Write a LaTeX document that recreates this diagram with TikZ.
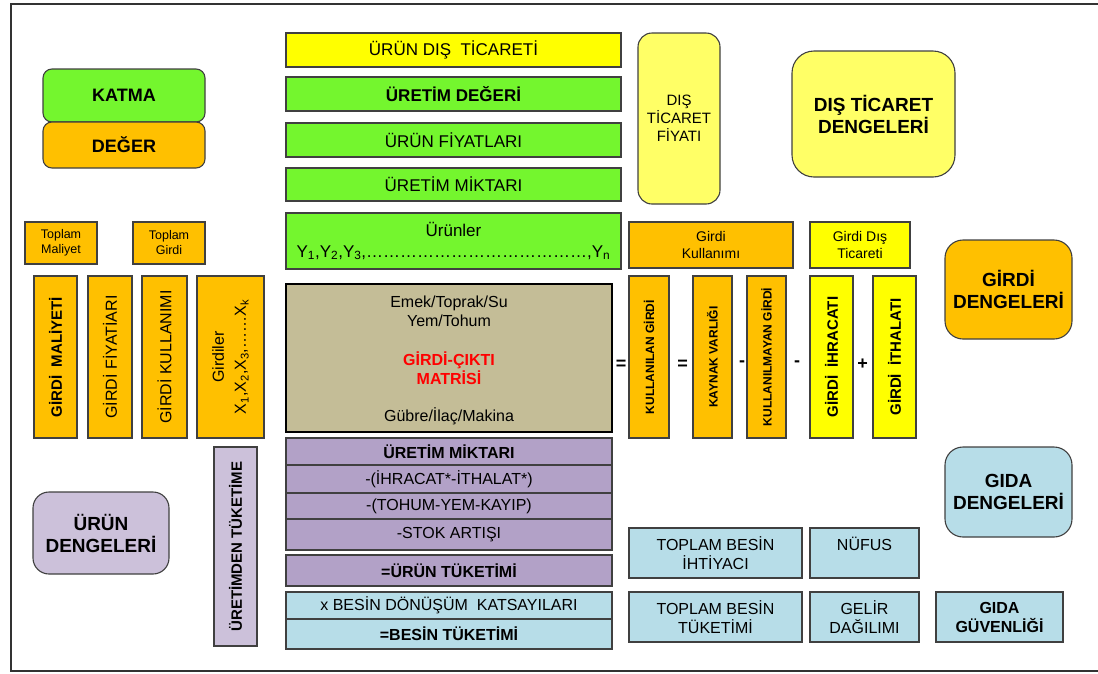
\documentclass[tikz,border=0pt]{standalone}
\usepackage{fontspec}
\setmainfont{Liberation Sans}
\usetikzlibrary{positioning}
\definecolor{kgreen}{RGB}{116,246,46}
\definecolor{korange}{RGB}{255,192,0}
\definecolor{kyellow}{RGB}{255,255,0}
\definecolor{kpale}{RGB}{255,255,102}
\definecolor{ktan}{RGB}{196,189,151}
\definecolor{kpurple}{RGB}{178,161,199}
\definecolor{klilac}{RGB}{204,193,218}
\definecolor{kblue}{RGB}{183,221,232}
\definecolor{kred}{RGB}{255,0,0}
\tikzset{
  blk/.style = {draw=black!75, line width=1.1pt, inner sep=0, outer sep=0, align=center, font=\fontsize{16}{19}\selectfont},
  rblk/.style = {blk, rounded corners=#1},
  big/.style = {font=\fontsize{19}{22}\selectfont\bfseries},
  opr/.style = {inner sep=0, font=\fontsize{18}{18}\selectfont\bfseries}
}

\begin{document}
\begin{tikzpicture}[x=1pt, y=-1pt]
  \useasboundingbox (0,0) rectangle (1098,673);
  \draw [line width=2pt, black!80] (10.5,3.5) rectangle (1130,671);

  % katma deger
  \node [rblk=9pt, fill=kgreen, minimum width=162pt, minimum height=53pt, font=\fontsize{18}{21}\selectfont\bfseries] (katma) at (124,95.5) {KATMA};
  \node [rblk=9pt, fill=korange, minimum width=162pt, minimum height=46pt, font=\fontsize{18}{21}\selectfont\bfseries, below=0pt of katma] (deger) {DEĞER};

  % urun sutunu
  \node [blk, fill=kyellow, minimum width=335pt, minimum height=34pt, font=\fontsize{17}{20}\selectfont] (urundis) at (453.5,50) {ÜRÜN DIŞ~ TİCARETİ};
  \node [blk, fill=kgreen, minimum width=335pt, minimum height=34pt, font=\fontsize{17}{20}\selectfont\bfseries, below=10pt of urundis] (uretdeg) {ÜRETİM DEĞERİ};
  \node [blk, fill=kgreen, minimum width=335pt, minimum height=34pt, font=\fontsize{17}{20}\selectfont, below=12pt of uretdeg] (urunfiy) {ÜRÜN FİYATLARI};
  \node [blk, fill=kgreen, minimum width=335pt, minimum height=33pt, font=\fontsize{17}{20}\selectfont, below=11pt of urunfiy] (uretmik) {ÜRETİM MİKTARI};
  \node [blk, fill=kgreen, minimum width=335pt, minimum height=56pt, font=\fontsize{17}{21}\selectfont, below=12pt of uretmik] (urunler)
    {Ürünler\\Y\textsubscript{1},Y\textsubscript{2},Y\textsubscript{3},…………………………………,Y\textsubscript{n}};

  % dis ticaret
  \node [rblk=14pt, fill=kpale, minimum width=82pt, minimum height=171pt, font=\fontsize{15}{18}\selectfont] (dtfiyat) at (679,118.5) {DIŞ\\TİCARET\\FİYATI};
  \node [rblk=22pt, fill=kpale, minimum width=163pt, minimum height=126pt, big] (dtdenge) at (873.5,114) {DIŞ TİCARET\\DENGELERİ};

  % girdi kullanimi
  \node [blk, fill=korange, minimum width=164pt, minimum height=46pt, font=\fontsize{14}{17}\selectfont] (gkul) at (711,245) {Girdi\\Kullanımı};
  \node [blk, fill=kyellow, minimum width=100pt, minimum height=46pt, font=\fontsize{14}{17}\selectfont] (gdis) at (860,245) {Girdi Dış\\Ticareti};
  \node [blk, fill=korange, rotate=90, minimum width=162pt, minimum height=40pt, font=\fontsize{12}{14}\selectfont\bfseries] (kul) at (649,357) {KULLANILAN GİRDİ};
  \node [blk, fill=korange, rotate=90, minimum width=162pt, minimum height=39pt, font=\fontsize{12}{14}\selectfont\bfseries] (kay) at (712.5,357) {KAYNAK VARLIĞI};
  \node [blk, fill=korange, rotate=90, minimum width=162pt, minimum height=39pt, font=\fontsize{12}{14}\selectfont\bfseries] (kulm) at (766.5,357) {KULLANILMAYAN GİRDİ};
  \node [blk, fill=kyellow, rotate=90, minimum width=162pt, minimum height=43pt, font=\fontsize{15}{18}\selectfont\bfseries] (ihr) at (831.5,357) {GİRDİ~ İHRACATI};
  \node [blk, fill=kyellow, rotate=90, minimum width=162pt, minimum height=43pt, font=\fontsize{15}{18}\selectfont\bfseries] (ith) at (894.5,357) {GİRDİ~ İTHALATI};
  \foreach \x/\y/\s/\n in {621/365/=/eqa, 682.5/365/=/eqb, 742/364/-/mina, 797/364/-/minb, 862.5/364/+/plus}
    \node [opr] (\n) at (\x,\y) {\s};
  \node [rblk=18pt, fill=korange, minimum width=127pt, minimum height=99pt, big] (gdenge) at (1008.5,289.5) {GİRDİ\\DENGELERİ};

  % girdi sutunlari
  \node [blk, fill=korange, minimum width=72pt, minimum height=42pt, font=\fontsize{12.5}{15}\selectfont] (tmal) at (61,243) {Toplam\\Maliyet};
  \node [blk, fill=korange, minimum width=72pt, minimum height=42pt, font=\fontsize{12.5}{15}\selectfont] (tgir) at (169,243) {Toplam\\Girdi};
  \node [blk, fill=korange, rotate=90, minimum width=162pt, minimum height=43pt, font=\fontsize{15}{18}\selectfont\bfseries] (gmal) at (55.5,357) {GİRDİ~ MALİYETİ};
  \node [blk, fill=korange, rotate=90, minimum width=162pt, minimum height=44pt] (gfiy) at (110,357) {GİRDİ FİYATİARI};
  \node [blk, fill=korange, rotate=90, minimum width=162pt, minimum height=45pt] (gkull) at (164.5,357) {GİRDİ KULLANIMI};
  \node [blk, fill=korange, rotate=90, minimum width=162pt, minimum height=67pt, font=\fontsize{16}{22}\selectfont] (girdiler) at (230.5,357)
    {Girdiler\\X\textsubscript{1},X\textsubscript{2},X\textsubscript{3},……X\textsubscript{k}};

  % matris
  \node [blk, draw=black, line width=2pt, fill=ktan, minimum width=326pt, minimum height=148pt] (matris) at (449,358) {};
  \node [inner sep=0, align=center, font=\fontsize{16}{19.5}\selectfont] (mtop) at (449,311.5) {Emek/Toprak/Su\\Yem/Tohum};
  \node [inner sep=0, align=center, text=kred, font=\fontsize{16}{19}\selectfont\bfseries] (mmid) at (449,368.5) {GİRDİ-ÇIKTI\\MATRİSİ};
  \node [inner sep=0, font=\fontsize{16}{19}\selectfont] (mbot) at (449,416) {Gübre/İlaç/Makina};

  % urun dengesi
  \node [blk, fill=kpurple, minimum width=326pt, minimum height=27pt, font=\fontsize{16}{19}\selectfont\bfseries] (pm1) at (449,451.5) {ÜRETİM MİKTARI};
  \node [blk, fill=kpurple, minimum width=326pt, minimum height=28pt, below=0pt of pm1] (pm2) {-(İHRACAT*-İTHALAT*)};
  \node [blk, fill=kpurple, minimum width=326pt, minimum height=26pt, below=0pt of pm2] (pm3) {-(TOHUM-YEM-KAYIP)};
  \node [blk, fill=kpurple, minimum width=326pt, minimum height=31pt, below=0pt of pm3] (pm4) {-STOK ARTIŞI};
  \node [blk, fill=kpurple, minimum width=326pt, minimum height=31pt, font=\fontsize{16}{19}\selectfont\bfseries, below=5pt of pm4] (pm5) {=ÜRÜN TÜKETİMİ};
  \node [blk, fill=kblue, minimum width=326pt, minimum height=27pt, below=6pt of pm5] (bl1) {x BESİN DÖNÜŞÜM~ KATSAYILARI};
  \node [blk, fill=kblue, minimum width=326pt, minimum height=30pt, font=\fontsize{16}{19}\selectfont\bfseries, below=0pt of bl1] (bl2) {=BESİN TÜKETİMİ};
  \node [blk, fill=klilac, rotate=90, minimum width=199pt, minimum height=43pt, font=\fontsize{15}{18}\selectfont\bfseries] (uret) at (235.5,546.5) {ÜRETİMDEN TÜKETİME};
  \node [rblk=16pt, fill=klilac, minimum width=136pt, minimum height=82pt, big] (udenge) at (101,533) {ÜRÜN\\DENGELERİ};

  % gida
  \node [rblk=18pt, fill=kblue, minimum width=127pt, minimum height=90pt, big] (gidadenge) at (1008.5,492) {GIDA\\DENGELERİ};
  \node [blk, fill=kblue, minimum width=173pt, minimum height=50pt] (tbi) at (715.5,553) {TOPLAM BESİN\\İHTİYACI};
  \node [blk, fill=kblue, minimum width=109pt, minimum height=50pt] (nufus) at (864.5,553) {NÜFUS\\~};
  \node [blk, fill=kblue, minimum width=173pt, minimum height=50pt] (tbt) at (715.5,617) {TOPLAM BESİN\\TÜKETİMİ};
  \node [blk, fill=kblue, minimum width=109pt, minimum height=50pt] (gelir) at (864.5,617) {GELİR\\DAĞILIMI};
  \node [blk, fill=kblue, minimum width=127pt, minimum height=50pt, font=\fontsize{16}{19}\selectfont\bfseries] (gguv) at (999.5,617) {GIDA\\GÜVENLİĞİ};
\end{tikzpicture}
\end{document}
